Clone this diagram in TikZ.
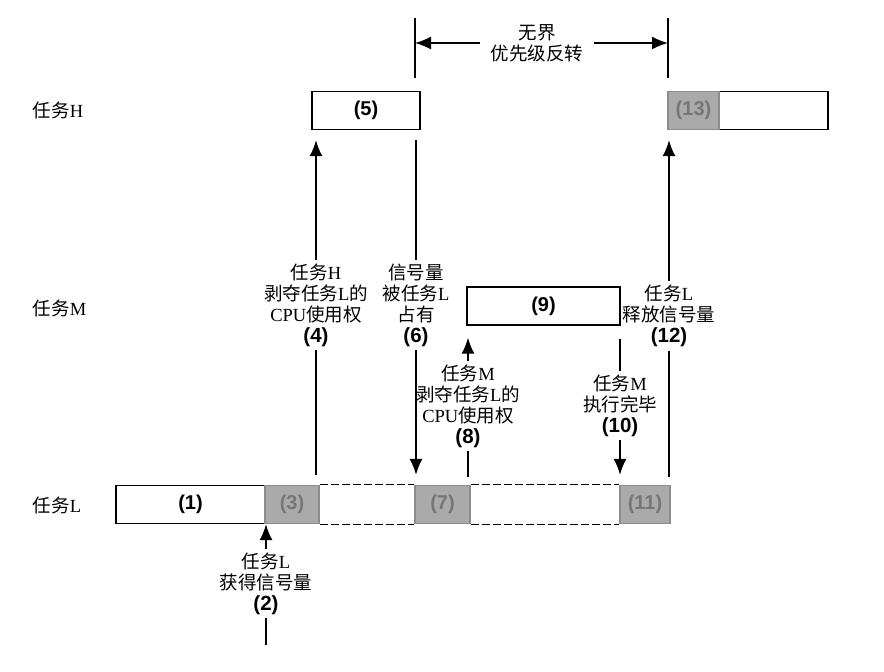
\documentclass[tikz,border=0pt]{standalone}
\usepackage{fontspec}
\setmainfont{Liberation Serif}
\newfontfamily\cjk{Noto Sans CJK SC}
\newfontfamily\numfont{Liberation Sans}
\usetikzlibrary{arrows.meta}

\newcommand{\zh}[1]{{\cjk #1}}
\newcommand{\nr}[1]{{\numfont\bfseries\fontsize{20.5}{21}\selectfont #1}}
\definecolor{busyfill}{RGB}{170,170,170}
\definecolor{busyline}{RGB}{140,140,140}
\definecolor{busytext}{RGB}{118,118,118}

\begin{document}
\begin{tikzpicture}[x=1pt,y=-1pt,line width=1.6pt,>={Latex[length=16pt,width=13pt]},
	box/.style={draw,line width=1.3pt,minimum height=38pt,inner sep=0pt,
		font=\numfont\bfseries\fontsize{20}{21}\selectfont},
	busy/.style={box,fill=busyfill,draw=busyline,text=busytext},
	lbl/.style={align=center,inner sep=3pt,font=\fontsize{18.5}{21}\selectfont},
	wait/.style={line width=1pt,dash pattern=on 8pt off 3pt}]
	\useasboundingbox (0,0) rectangle (884,672);

	% tasks
	\node[lbl,anchor=west] (H) at (29,110) {\zh{任务}H};
	\node[lbl,anchor=west] (M) at (29,308) {\zh{任务}M};
	\node[lbl,anchor=west] (L) at (29,505) {\zh{任务}L};

	% task L
	\node[box,minimum width=149pt] (1) at (190.5,504.5) {(1)};
	\node[busy,minimum width=54pt] (3) at (292,504.5) {(3)};
	\node[busy,minimum width=55pt] (7) at (442.5,504.5) {(7)};
	\node[busy,minimum width=50pt] (11) at (645,504.5) {(11)};
	\draw[wait] (3.north east) -- (7.north west) (3.south east) -- (7.south west);
	\draw[wait] (7.north east) -- (11.north west) (7.south east) -- (11.south west);

	% task H and task M
	\node[box,minimum width=108pt] (5) at (366,110.5) {(5)};
	\node[box,minimum width=109pt] (13r) at (773.5,110.5) {};
	\node[busy,minimum width=51pt] (13) at (693.5,110.5) {(13)};
	\node[box,minimum width=153pt] (9) at (543.5,306) {(9)};

	% events
	\node[lbl] (2) at (266,583.5) {\zh{任务}L\\\zh{获得信号量}\\\nr{(2)}};
	\node[lbl] (4) at (316,305) {\zh{任务}H\\\zh{剥夺任务}L\zh{的}\\CPU\zh{使用权}\\\nr{(4)}};
	\node[lbl] (6) at (416,305) {\zh{信号量}\\\zh{被任务}L\\\zh{占有}\\\nr{(6)}};
	\node[lbl] (8) at (468,406) {\zh{任务}M\\\zh{剥夺任务}L\zh{的}\\CPU\zh{使用权}\\\nr{(8)}};
	\node[lbl] (10) at (620,405.5) {\zh{任务}M\\\zh{执行完毕}\\\nr{(10)}};
	\node[lbl] (12) at (669,316) {\zh{任务}L\\\zh{释放信号量}\\\nr{(12)}};
	\coordinate (c2) at (266,645);

	\draw (c2) edge (2);
	\draw[->] (2) edge (2 |- 3.south);
	\draw (4) edge[shorten >=10pt] (4 |- 3.north);
	\draw[->] (4) edge[shorten >=10pt] (4 |- 5.south);
	\draw (6 |- 5.south) edge[shorten <=10pt] (6);
	\draw[->] (6) edge[shorten >=10pt] (6 |- 7.north);
	\draw (8) edge[shorten >=8pt] (8 |- 7.north);
	\draw[->] (8) edge[shorten >=12pt] (8 |- 9.south);
	\draw (10 |- 9.south) edge[shorten <=13pt] (10);
	\draw[->] (10) edge[shorten >=10pt] (10 |- 11.north);
	\draw (12) edge[shorten >=8pt] (12 |- 11.north);
	\draw[->] (12) edge[shorten >=10pt] (12 |- 13.south);

	% unbounded inversion
	\coordinate (t1) at (415,18);
	\coordinate (t2) at (415,78);
	\coordinate (t3) at (668,18);
	\coordinate (t4) at (668,78);
	\node[lbl,inner xsep=10pt] (u) at (537,43) {\zh{无界}\\\zh{优先级反转}};
	\draw (t1) -- (t2);
	\draw (t3) -- (t4);
	\draw[->] (u) edge (u -| t1);
	\draw[->] (u) edge (u -| t3);
\end{tikzpicture}
\end{document}
